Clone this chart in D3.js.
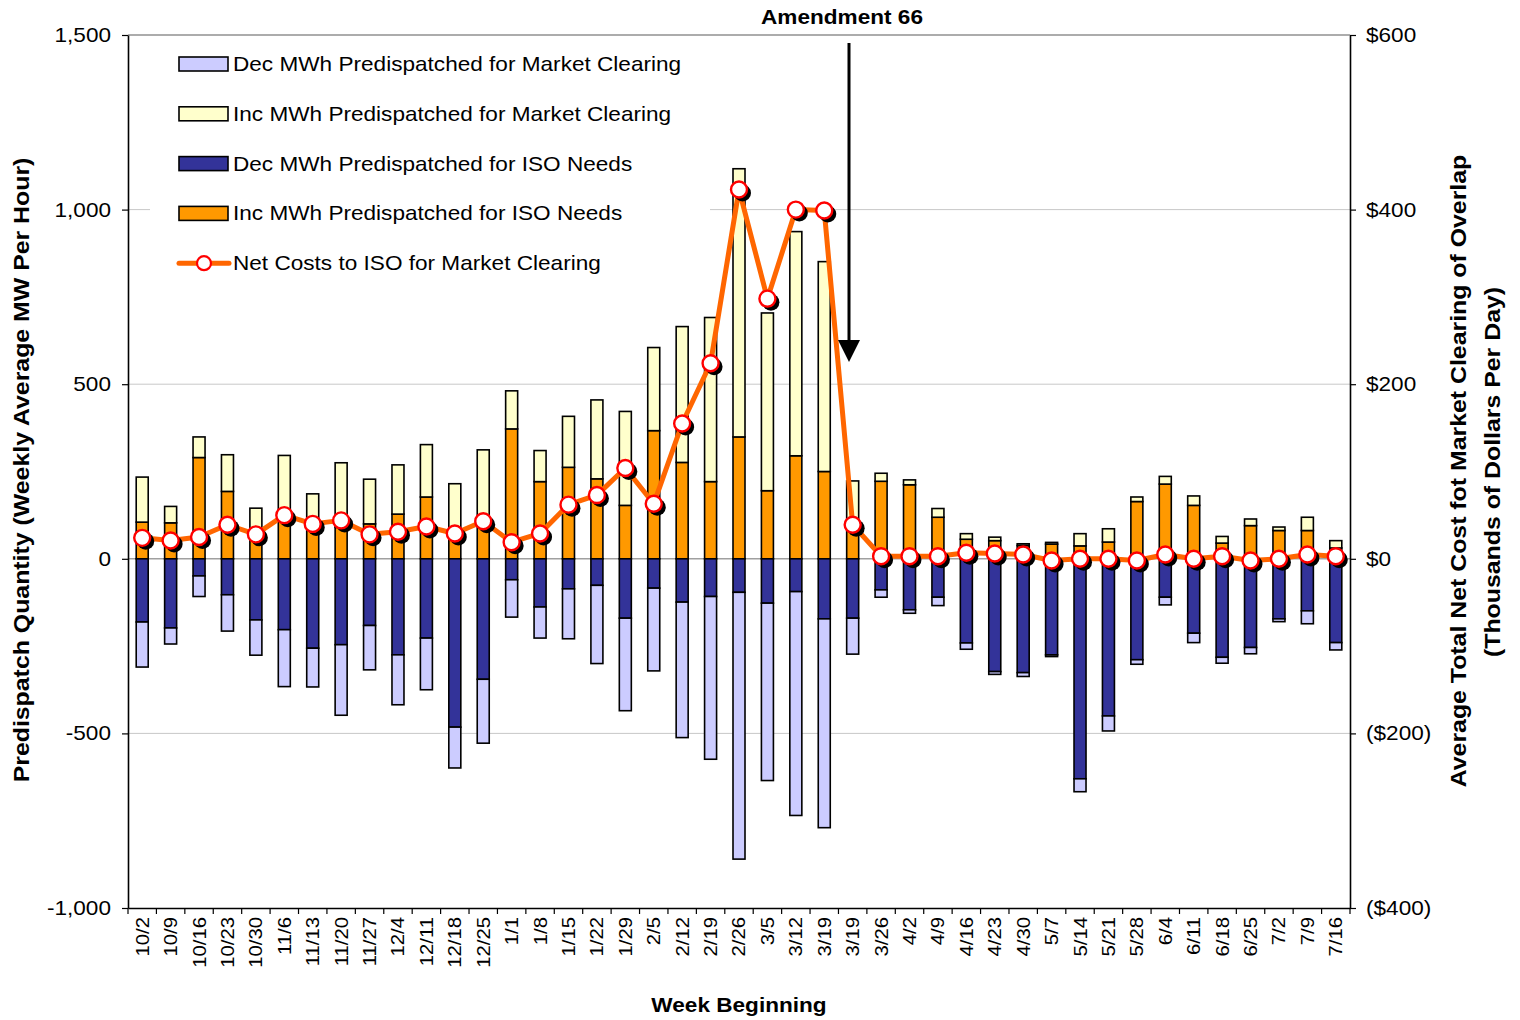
<!DOCTYPE html>
<html><head><meta charset="utf-8">
<script src="https://cdn.jsdelivr.net/npm/d3@7"></script>
<style>
body{margin:0;background:#fff}
text{font-family:"Liberation Sans",Arial,Helvetica,sans-serif;fill:#000}
</style>
</head><body>
<svg id="c" width="1520" height="1020"></svg>
<script>
const weeks = ["10/2","10/9","10/16","10/23","10/30","11/6","11/13","11/20","11/27","12/4","12/11","12/18","12/25","1/1","1/8","1/15","1/22","1/29","2/5","2/12","2/19","2/26","3/5","3/12","3/19","3/19","3/26","4/2","4/9","4/16","4/23","4/30","5/7","5/14","5/21","5/28","6/4","6/11","6/18","6/25","7/2","7/9","7/16"];
const incISO    = [105,103,290,193,85,125,95,90,100,128,177,75,120,372,221,262,229,153,367,276,221,349,195,295,250,100,222,212,119,56,52,38,42,37,48,164,214,153,45,95,81,81,31];
const incMarket = [129,47,59,105,60,171,91,185,128,141,150,140,192,109,89,146,226,269,238,389,470,768,509,642,601,123,23,14,25,16,10,5,5,35,38,13,22,27,19,19,10,38,21];
const decISO    = [-181,-198,-49,-103,-175,-203,-256,-246,-191,-275,-227,-482,-345,-60,-138,-86,-76,-170,-84,-124,-108,-96,-127,-94,-172,-170,-89,-146,-110,-241,-323,-326,-275,-630,-450,-289,-110,-213,-282,-254,-172,-149,-240];
const decMarket = [-129,-46,-59,-104,-101,-163,-111,-202,-127,-143,-148,-117,-183,-107,-89,-143,-224,-265,-237,-388,-466,-764,-508,-641,-598,-103,-21,-10,-24,-18,-8,-11,-5,-37,-43,-13,-22,-27,-17,-18,-8,-37,-21];
const netCost   = [24,21,25,39,28,50,40,44,28,31,37,29,43,19,29,62,73,104,63,155,224,423,298,400,399,39,3,3,3,7,6,5,-2,0,0,-2,5,0,3,-2,0,5,3];
const leftTicks  = [-1000,-500,0,500,1000,1500];
const rightTicks = [-400,-200,0,200,400,600];
const legendNames = ["Dec MWh Predispatched for Market Clearing","Inc MWh Predispatched for Market Clearing","Dec MWh Predispatched for ISO Needs","Inc MWh Predispatched for ISO Needs","Net Costs to ISO for Market Clearing"];

const C = {decMkt:"#CCCCFF", incMkt:"#FFFFCC", decISO:"#333399", incISO:"#FF9900", line:"#FF6600", ring:"#FF0000"};
const SX = 1.13;
const L = 128, R = 1350, T = 35, B = 908;
const svg = d3.select("#c");

const idx = weeks.map((d,i)=>i);
const x = d3.scaleBand().domain(idx).range([L,R]).paddingInner(0).paddingOuter(0);
const y = d3.scaleLinear().domain([-1000,1500]).range([B,T]);
const yR = d3.scaleLinear().domain([-400,600]).range([B,T]);

// gridlines
svg.append("g").selectAll("line").data([-500,500,1000]).join("line")
  .attr("x1",L).attr("x2",R).attr("y1",d=>y(d)).attr("y2",d=>y(d))
  .attr("stroke","#c8c8c8").attr("stroke-width",1);
// top border
svg.append("line").attr("x1",L).attr("x2",R).attr("y1",T).attr("y2",T).attr("stroke","#909090").attr("stroke-width",1.5);

// legend background
svg.append("rect").attr("x",150).attr("y",42).attr("width",560).attr("height",245).attr("fill","#fff");

// zero line
svg.append("line").attr("x1",L).attr("x2",R).attr("y1",y(0)).attr("y2",y(0)).attr("stroke","#a0a0a0").attr("stroke-width",1.5);

// bars
const bw = 12;
const gB = svg.append("g").attr("stroke","#000").attr("stroke-width",1.6);
function seg(vals0, vals1, color){
  gB.append("g").selectAll("rect").data(idx).join("rect")
    .attr("x", i => x(i) + x.bandwidth()/2 - bw/2)
    .attr("width", bw)
    .attr("y", i => Math.min(y(vals0(i)), y(vals1(i))))
    .attr("height", i => Math.abs(y(vals0(i)) - y(vals1(i))))
    .attr("fill", color);
}
seg(i=>0, i=>incISO[i], C.incISO);
seg(i=>incISO[i], i=>incISO[i]+incMarket[i], C.incMkt);
seg(i=>0, i=>decISO[i], C.decISO);
seg(i=>decISO[i], i=>decISO[i]+decMarket[i], C.decMkt);

// line
const cx = i => x(i) + x.bandwidth()/2;
svg.append("path").datum(idx)
  .attr("d", d3.line().x(cx).y(i=>yR(netCost[i])))
  .attr("fill","none").attr("stroke",C.line).attr("stroke-width",5).attr("stroke-linejoin","round");
svg.append("g").selectAll("circle").data(idx).join("circle")
  .attr("cx", i=>cx(i)+3.5).attr("cy", i=>yR(netCost[i])+3.5).attr("r",8.5).attr("fill","#000");
svg.append("g").selectAll("circle").data(idx).join("circle")
  .attr("cx", cx).attr("cy", i=>yR(netCost[i])).attr("r",8).attr("fill","#fff")
  .attr("stroke",C.ring).attr("stroke-width",2.4);

// axes
const fmtL = d => (d<0?"-":"") + d3.format(",")(Math.abs(d));
const fmtR = d => d<0 ? "($"+(-d)+")" : "$"+d;
const axL = svg.append("g").attr("transform",`translate(${L},0)`)
  .call(d3.axisLeft(y).tickValues(leftTicks).tickFormat(fmtL).tickSize(6).tickSizeOuter(0));
axL.selectAll("text").attr("x",-17/SX).attr("transform",`scale(${SX},1)`).style("font-size","20px");
const axR = svg.append("g").attr("transform",`translate(${R},0)`)
  .call(d3.axisRight(yR).tickValues(rightTicks).tickFormat(fmtR).tickSize(6).tickSizeOuter(0));
axR.selectAll("text").attr("x",16/SX).attr("transform",`scale(${SX},1)`).style("font-size","20px");
const axB = svg.append("g").attr("transform",`translate(0,${B})`)
  .call(d3.axisBottom(x).tickFormat(i=>weeks[i]).tickSize(0).tickSizeOuter(0));
axB.selectAll("text").attr("text-anchor","end").attr("x",-9/SX).attr("y",0).attr("dy","0.36em")
  .attr("transform",`rotate(-90) scale(${SX},1)`).style("font-size","18px");
// bottom ticks at band boundaries
axB.append("g").selectAll("line").data(d3.range(weeks.length+1)).join("line")
  .attr("x1",i=>L + i*x.step()).attr("x2",i=>L + i*x.step()).attr("y1",0).attr("y2",6)
  .attr("stroke","#000").attr("stroke-width",1.2);
[axL,axR,axB].forEach(a=>{a.select(".domain").attr("stroke","#000").attr("stroke-width",1.6);a.selectAll(".tick line").attr("stroke","#000").attr("stroke-width",1.2);});

// titles
function txt(xp,yp,rot,s,size,bold,anchor="middle"){
  return svg.append("text").attr("transform",`translate(${xp},${yp}) rotate(${rot}) scale(${SX},1)`)
    .attr("text-anchor",anchor).style("font-size",size+"px").style("font-weight",bold?"bold":"normal").text(s);
}
txt(739,1012,0,"Week Beginning",20,true);
txt(29,470,-90,"Predispatch Quantity (Weekly Average MW Per Hour)",22,true);
txt(1466,471,-90,"Average Total Net Cost fot Market Clearing of Overlap",22,true);
txt(1500,472,-90,"(Thousands of Dollars Per Day)",22,true);
txt(842,24,0,"Amendment 66",20,true);

// annotation arrow
svg.append("line").attr("x1",849).attr("x2",849).attr("y1",43).attr("y2",345).attr("stroke","#000").attr("stroke-width",3);
svg.append("path").attr("d","M838,340 L860,340 L849,362 Z").attr("fill","#000");

// legend
const lg = svg.append("g");
const swCols = [C.decMkt,C.incMkt,C.decISO,C.incISO];
legendNames.forEach((n,k)=>{
  const yy = 64 + k*49.8;
  if(k<4){
    lg.append("rect").attr("x",179).attr("y",yy-7).attr("width",49).attr("height",14)
      .attr("fill",swCols[k]).attr("stroke","#000").attr("stroke-width",1.6);
  } else {
    lg.append("line").attr("x1",179).attr("x2",229).attr("y1",yy).attr("y2",yy)
      .attr("stroke",C.line).attr("stroke-width",5).attr("stroke-linecap","round");
    lg.append("circle").attr("cx",204).attr("cy",yy).attr("r",7).attr("fill","#fff")
      .attr("stroke",C.ring).attr("stroke-width",2.2);
  }
  lg.append("text").attr("transform",`translate(233,${yy+7}) scale(${SX},1)`)
    .style("font-size","20px").text(n);
});
</script>
</body></html>
